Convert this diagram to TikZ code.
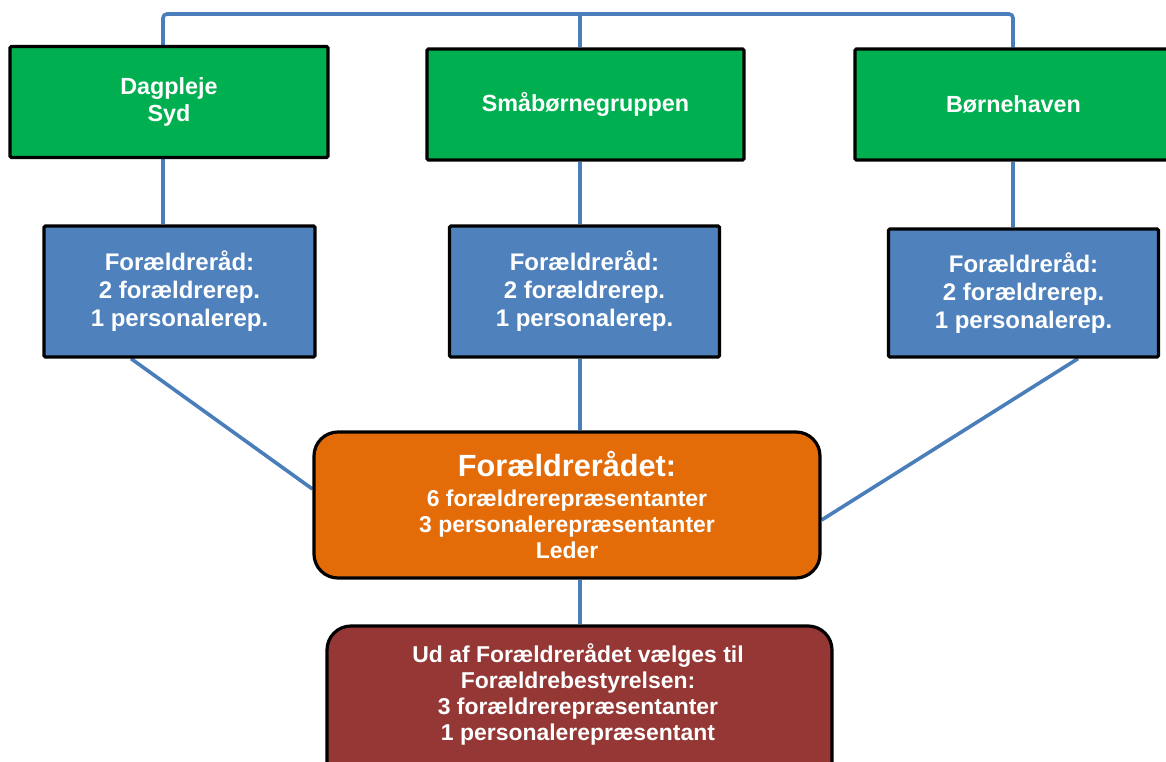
\documentclass[tikz,border=0pt]{standalone}
\usepackage{fontspec}
\setmainfont{Liberation Sans}
\usetikzlibrary{backgrounds}
\definecolor{gr}{HTML}{00B050}
\definecolor{bl}{HTML}{4F81BD}
\definecolor{org}{HTML}{E36C09}
\definecolor{rd}{HTML}{953735}
\definecolor{ln}{HTML}{4A7EBB}
\begin{document}
\begin{tikzpicture}[x=0.75pt,y=-0.75pt,
  box/.style={draw=black, line width=2.4pt, text=white, align=center, inner sep=0pt,
    font=\bfseries\fontsize{17.5}{20.5}\selectfont},
  greenbox/.style={box, fill=gr, rounded corners=1pt, minimum width=317*0.75pt, minimum height=111*0.75pt},
  bluebox/.style={box, fill=bl, rounded corners=1pt, minimum width=270*0.75pt, minimum height=130*0.75pt,
    font=\bfseries\fontsize{18}{21}\selectfont},
  roundbox/.style={box, rounded corners=18pt, font=\bfseries\fontsize{17.2}{19.5}\selectfont},
  txt/.style={text=white, align=center, inner sep=0pt, font=\bfseries\fontsize{17.2}{19.5}\selectfont},
  conn/.style={draw=ln, line width=2.7pt}]
\useasboundingbox (0,0) rectangle (1166,762);
\clip (0,0) rectangle (1166,762);

% green boxes
\node[greenbox, minimum width=318*0.75pt] (dag) at (169,102) {Dagpleje\\Syd};
\node[greenbox] (sm) at (585.5,104.5) {Småbørnegruppen};
\node[greenbox] (bh) at (1013.5,104.5) {Børnehaven};

% blue boxes
\node[bluebox, minimum width=271*0.75pt, minimum height=131*0.75pt] (bl1) at (179.5,291.5) {\strut Forældreråd:\\2 forældrerep.\\1 personalerep.};
\node[bluebox, minimum height=131*0.75pt] (bl2) at (584.5,291.5) {\strut Forældreråd:\\2 forældrerep.\\1 personalerep.};
\node[bluebox, minimum height=128*0.75pt] (bl3) at (1023.5,293) {\strut Forældreråd:\\2 forældrerep.\\1 personalerep.};

% orange box
\node[roundbox, fill=org, minimum width=506*0.75pt, minimum height=146*0.75pt] (or) at (567,505)
  {{\fontsize{23}{24}\selectfont Forældrerådet:}\\[3pt]6 forældrerepræsentanter\\3 personalerepræsentanter\\Leder};

% red box (its bottom runs past the lower edge of the picture)
\node[roundbox, fill=rd, minimum width=505*0.75pt, minimum height=180*0.75pt] (rb) at (579.5,716) {};
\node[txt] (rbt) at (578,694)
  {Ud af Forældrerådet vælges til\\Forældrebestyrelsen:\\3 forældrerepræsentanter\\1 personalerepræsentant};

% connector helper coordinates
\coordinate (xa) at (163,14);
\coordinate (xb) at (580,14);
\coordinate (xc) at (1013,14);
\coordinate (d1) at (131,489);
\coordinate (d3) at (1078,520);

\begin{scope}[on background layer]
\draw[conn, rounded corners=3pt] (dag.north -| xa) -- (xa) -- (xc) -- (bh.north -| xc);
\draw[conn] (xb) -- (sm.north -| xb);
\draw[conn] (dag.south -| xa) -- (bl1.north -| xa);
\draw[conn] (sm.south -| xb) -- (bl2.north -| xb);
\draw[conn] (bh.south -| xc) -- (bl3.north -| xc);
\draw[conn] (bl1.south -| d1) -- (or.west |- d1);
\draw[conn] (bl2.south -| xb) -- (or.north -| xb);
\draw[conn] (bl3.south -| d3) -- (or.east |- d3);
\draw[conn] (or.south -| xb) -- (rb.north -| xb);
\end{scope}
\end{tikzpicture}
\end{document}
